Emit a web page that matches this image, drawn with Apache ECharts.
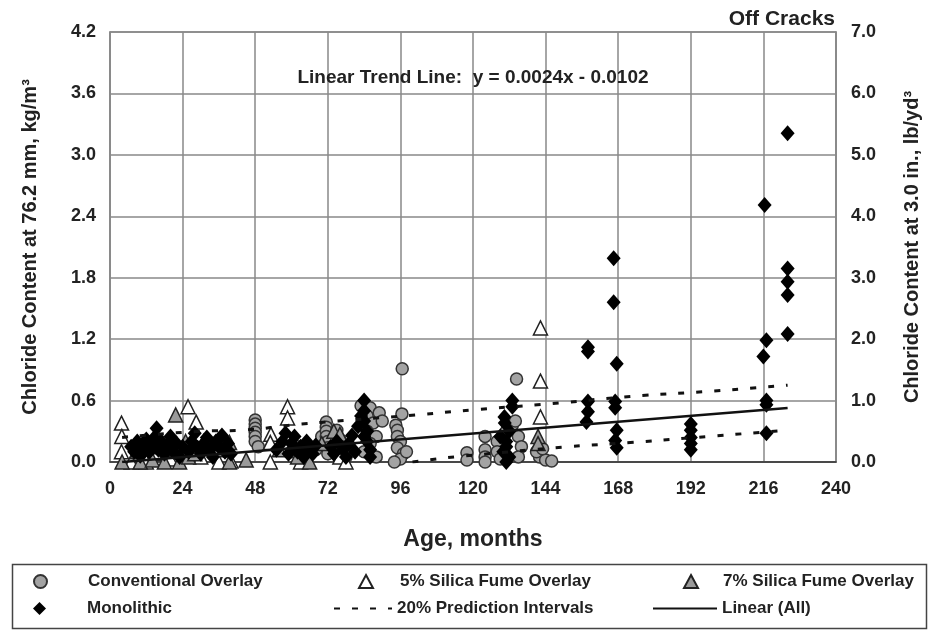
<!DOCTYPE html>
<html lang="en">
<head>
    <meta charset="utf-8">
    <title>Off Cracks</title>
    <script src="https://cdn.jsdelivr.net/npm/echarts@6/dist/echarts.min.js"></script>
    <style>
        html, body { height: 100%; margin: 0; background: #fff; }
    </style>
</head>
<body>
    <div id="main" style="width:930px;height:630px;"></div>
    <script>
        // ages in months, chloride in kg/m3
        var xTicks = [0, 24, 48, 72, 96, 120, 144, 168, 192, 216, 240];
        var yTicksLeft = [0, 0.6, 1.2, 1.8, 2.4, 3.0, 3.6, 4.2];
        var yTicksRight = [0, 1, 2, 3, 4, 5, 6, 7];

        var conventional = [
            [48, 0.41], [48, 0.37], [48, 0.33], [48, 0.29], [48, 0.25], [48, 0.2], [49, 0.15],
            [60, 0.1], [62, 0.15],
            [68, 0.12], [70, 0.25], [71.5, 0.39], [71.5, 0.34], [71.5, 0.3], [71.5, 0.25], [72, 0.2], [72, 0.14],
            [72, 0.08], [75, 0.31], [76, 0.22], [77, 0.1], [78, 0.05],
            [83, 0.55], [86, 0.53], [85, 0.45], [87, 0.38], [85, 0.3], [88, 0.25], [86, 0.18], [84, 0.1],
            [88, 0.05], [89, 0.48], [90, 0.4],
            [96.6, 0.91], [96.5, 0.47], [94.5, 0.36], [95, 0.31], [95, 0.25], [96, 0.2], [95, 0.14], [97, 0.08],
            [96, 0.03], [94, 0.0], [98, 0.1],
            [118, 0.09], [118, 0.02], [124, 0.25], [124, 0.12], [124, 0.05], [124, 0.0], [128, 0.2], [128, 0.1],
            [129, 0.03], [131, 0.3], [133, 0.36], [134, 0.4], [134.4, 0.81], [135, 0.25], [136, 0.15], [135, 0.05],
            [142, 0.05], [144, 0.02], [146, 0.01], [141, 0.1], [143, 0.13]
        ];
        var silica5 = [
            [3.8, 0.38], [3.9, 0.25], [3.8, 0.1], [25.8, 0.54], [28.5, 0.39], [58.7, 0.54], [58.7, 0.43],
            [53.2, 0.27], [53, 0.19], [53, 0.0], [142.3, 1.31], [142.3, 0.79], [142.3, 0.44],
            [12, 0.0], [20, 0.03], [30, 0.05], [36, 0.0], [40, 0.01], [63, 0.0], [76, 0.05], [7, 0.0],
            [15, 0.08], [22, 0.12], [78, 0.0]
        ];
        var silica7 = [
            [21.7, 0.46], [39.5, 0.19], [39.5, 0.0], [10, 0.0], [14, 0.02], [18, 0.0], [23, 0.0], [26, 0.05],
            [31, 0.2], [33, 0.15], [36, 0.12], [16, 0.15], [20, 0.22], [25, 0.2], [28, 0.08], [45, 0.02],
            [56, 0.12], [62, 0.05], [66, 0.0], [70, 0.18], [74, 0.3], [76, 0.27], [80, 0.15],
            [141.5, 0.25], [141.5, 0.18], [4, 0.0], [9, 0.1], [12, 0.18]
        ];
        var monolithic = [
            [7, 0.15], [8, 0.1], [9, 0.2], [10, 0.06], [11, 0.14], [12, 0.22], [13, 0.1], [14, 0.18], [15.4, 0.33],
            [15, 0.25], [16, 0.12], [17, 0.2], [18, 0.08], [19, 0.16], [20, 0.25], [21, 0.1], [22, 0.18], [23, 0.05],
            [24, 0.15], [26, 0.1], [27, 0.2], [28, 0.28], [29, 0.14], [30, 0.08], [31, 0.18], [32, 0.24], [33, 0.12],
            [34, 0.05], [35, 0.2], [36, 0.15], [37, 0.26], [38, 0.1], [39, 0.18], [40, 0.08],
            [55, 0.12], [57, 0.2], [58, 0.28], [59, 0.08], [60, 0.18], [61, 0.25], [62, 0.1], [63, 0.15], [64, 0.05],
            [65, 0.2], [66, 0.12], [67, 0.08], [68, 0.16],
            [73, 0.15], [74, 0.08], [75, 0.2], [77, 0.12], [78, 0.05], [79, 0.18], [80, 0.26], [81, 0.1], [82, 0.35],
            [83, 0.45], [84, 0.6], [84, 0.5], [84, 0.4], [85, 0.3], [85, 0.2], [86, 0.12], [86, 0.05], [84, 0.25],
            [133, 0.6], [133, 0.54], [130.4, 0.44], [130.5, 0.38], [131, 0.2], [131, 0.15], [130, 0.1], [132, 0.05],
            [129, 0.25], [132, 0.3], [131, 0.0],
            [158, 1.12], [158, 1.08], [158, 0.59], [158, 0.49], [157.5, 0.39],
            [166.5, 1.99], [166.5, 1.56], [167.5, 0.96], [167, 0.59], [167, 0.53], [167.5, 0.31], [167, 0.21], [167.5, 0.14],
            [192, 0.37], [192, 0.31], [192, 0.24], [192, 0.18], [192, 0.12],
            [216.4, 2.51], [217, 1.19], [216, 1.03], [217, 0.6], [217, 0.56], [217, 0.28],
            [224, 3.21], [224, 1.89], [224, 1.76], [224, 1.63], [224, 1.25]
        ];
        // 20% prediction intervals
        var upperPI = [[4, 0.24], [30, 0.3], [43, 0.31], [63, 0.37], [101, 0.46], [120, 0.51], [146, 0.57],
            [172, 0.64], [198, 0.69], [224, 0.75]];
        var lowerPI = [[100, 0.0], [108, 0.03], [114, 0.05], [152, 0.15], [172, 0.19], [198, 0.25], [224, 0.31]];
        var trendLine = [[4, 0.0], [224, 0.527]];

        var FONT = '"Liberation Sans Narrow", "Liberation Sans", Arial, sans-serif';
        var myChart = echarts.init(document.getElementById('main'));

        function legendAt(name, left, top, w, padLeft, hideSymbol) {
            var lg = {
                data: [name], left: left, top: top, orient: 'horizontal',
                itemWidth: w, itemHeight: 13, padding: 0,
                textStyle: { fontFamily: FONT, fontWeight: 'bold', fontSize: 17, color: '#222', padding: [0, 0, 0, padLeft] }
            };
            if (hideSymbol) lg.itemStyle = { opacity: 0 };
            return lg;
        }

        var axisLabelStyle = { fontFamily: FONT, fontWeight: 'bold', fontSize: 18, color: '#222' };

        var option = {
            animation: false,
            backgroundColor: '#fff',
            title: [
                { text: 'Off Cracks', right: 90, top: 4, textStyle: { fontFamily: FONT, fontWeight: 'bold', fontSize: 21, color: '#222' } },
                { text: 'Linear Trend Line:  y = 0.0024x - 0.0102', left: 468, top: 63, textAlign: 'center',
                  textStyle: { fontFamily: FONT, fontWeight: 'bold', fontSize: 19, color: '#222' } }
            ],
            grid: { left: 110, right: 91, top: 32, bottom: 168, show: true, borderColor: '#888', borderWidth: 1.5 },
            legend: [
                legendAt('Conventional Overlay', 33, 573, 13, 36),
                legendAt('5% Silica Fume Overlay', 358, 573, 14, 22),
                legendAt('7% Silica Fume Overlay', 683, 573, 14, 20),
                legendAt('Monolithic', 33, 600, 13, 36),
                legendAt('20% Prediction Intervals', 333, 600, 58, 0, true),
                legendAt('Linear (All)', 652, 600, 64, 0, true)
            ],
            graphic: [{
                type: 'rect', left: 10, top: 562, shape: { width: 914, height: 64 },
                style: { fill: 'none', stroke: '#444', lineWidth: 1.5 }, silent: true
            }],
            xAxis: {
                type: 'value', min: xTicks[0], max: xTicks[xTicks.length - 1], interval: 24,
                name: 'Age, months', nameLocation: 'middle', nameGap: 66,
                nameTextStyle: { fontFamily: FONT, fontWeight: 'bold', fontSize: 23, color: '#222' },
                axisLine: { lineStyle: { color: '#333', width: 1.5 } },
                axisTick: { show: false },
                axisLabel: Object.assign({ margin: 18 }, axisLabelStyle),
                splitLine: { lineStyle: { color: '#888', width: 1.5 } }
            },
            yAxis: [{
                type: 'value', min: yTicksLeft[0], max: yTicksLeft[yTicksLeft.length - 1], interval: 0.6,
                name: 'Chloride Content at 76.2 mm, kg/m\u00b3', nameLocation: 'middle', nameGap: 70, nameRotate: 90,
                nameTextStyle: { fontFamily: FONT, fontWeight: 'bold', fontSize: 20, color: '#222' },
                axisLine: { show: true, lineStyle: { color: '#888', width: 1.5 } },
                axisTick: { show: false },
                axisLabel: Object.assign({ margin: 14, formatter: function (v) { return v.toFixed(1); } }, axisLabelStyle),
                splitLine: { lineStyle: { color: '#888', width: 1.5 } }
            }, {
                type: 'value', min: yTicksRight[0], max: yTicksRight[yTicksRight.length - 1], interval: 1,
                position: 'right',
                name: 'Chloride Content at 3.0 in., lb/yd\u00b3', nameLocation: 'middle', nameGap: 66, nameRotate: 90,
                nameTextStyle: { fontFamily: FONT, fontWeight: 'bold', fontSize: 20, color: '#222' },
                axisLine: { show: true, lineStyle: { color: '#888', width: 1.5 } },
                axisTick: { show: false },
                axisLabel: Object.assign({ margin: 15, formatter: function (v) { return v.toFixed(1); } }, axisLabelStyle),
                splitLine: { show: false }
            }],
            series: [
                {
                    name: 'Conventional Overlay', type: 'scatter', data: conventional, symbol: 'circle', symbolSize: 12,
                    itemStyle: { color: '#a3a3a3', borderColor: '#333', borderWidth: 1.5, opacity: 1 }
                },
                {
                    name: '5% Silica Fume Overlay', type: 'scatter', data: silica5, symbol: 'triangle', symbolSize: 14,
                    itemStyle: { color: '#fff', borderColor: '#222', borderWidth: 1.5, opacity: 1 }
                },
                {
                    name: '7% Silica Fume Overlay', type: 'scatter', data: silica7, symbol: 'triangle', symbolSize: 14,
                    itemStyle: { color: '#9a9a9a', borderColor: '#222', borderWidth: 1.5, opacity: 1 }
                },
                {
                    name: 'Monolithic', type: 'scatter', data: monolithic, symbol: 'diamond', symbolSize: [14, 16],
                    itemStyle: { color: '#000', opacity: 1 }
                },
                {
                    name: '20% Prediction Intervals', type: 'line', data: upperPI, symbol: 'none', smooth: true,
                    lineStyle: { color: '#111', width: 3, type: [6, 12] }, itemStyle: { color: '#111' }, z: 5
                },
                {
                    name: '20% Prediction Intervals', type: 'line', data: lowerPI, symbol: 'none', smooth: true,
                    lineStyle: { color: '#111', width: 3, type: [6, 12] }, itemStyle: { color: '#111' }, z: 5
                },
                {
                    name: 'Linear (All)', type: 'line', data: trendLine, symbol: 'none',
                    lineStyle: { color: '#111', width: 2.5 }, itemStyle: { color: '#111' }, z: 5
                }
            ]
        };
        myChart.setOption(option);
    </script>
</body>
</html>
